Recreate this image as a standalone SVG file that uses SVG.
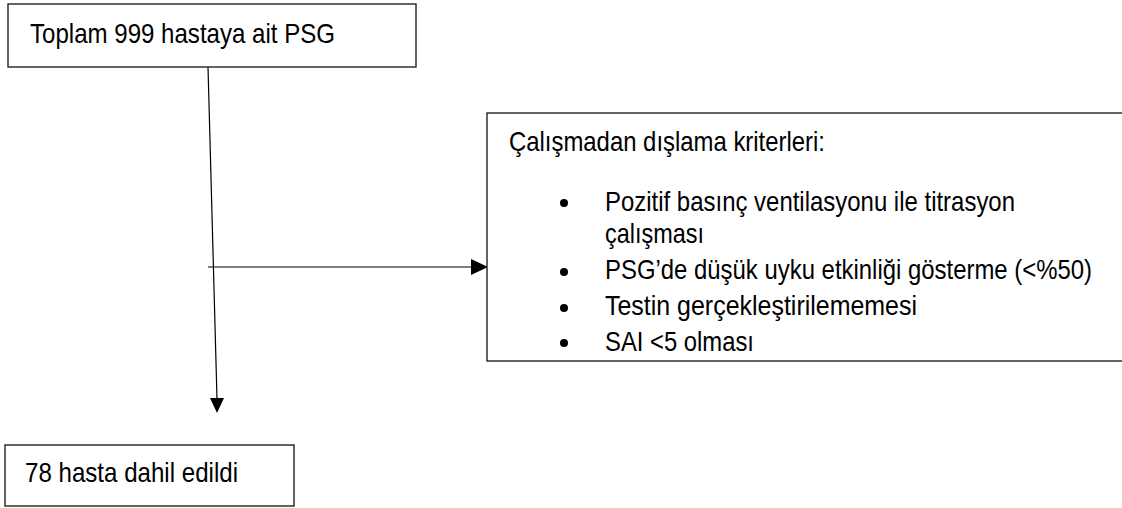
<svg xmlns="http://www.w3.org/2000/svg" width="1122" height="508" viewBox="0 0 1122 508">
<style>
.box{fill:#fff;stroke:#222;stroke-width:1.4}
.t{font-family:"Liberation Sans",Arial,sans-serif;font-size:28px;fill:#000}
.ln{stroke:#000;stroke-width:1.2;fill:none}
.ah{fill:#000}
</style>
<rect x="0" y="0" width="1122" height="508" fill="#fff"/>
<g id="connectors">
<line class="ln" x1="208" y1="67" x2="217" y2="399"/>
<polygon class="ah" points="210,398 224,398 217,413"/>
<line class="ln" x1="208" y1="267" x2="472" y2="267"/>
<polygon class="ah" points="471,259 471,275 488,267"/>
</g>
<g id="node-top">
<rect class="box" x="8" y="4" width="408" height="63"/>
<text class="t" x="30" y="43" textLength="305" lengthAdjust="spacingAndGlyphs">Toplam 999 hastaya ait PSG</text>
</g>
<g id="node-exclusion">
<rect class="box" x="487" y="113" width="640" height="248"/>
<text class="t" x="509" y="151" textLength="316" lengthAdjust="spacingAndGlyphs">Çalışmadan dışlama kriterleri:</text>
<circle cx="564" cy="203" r="4"/>
<text class="t" x="605" y="211" textLength="410" lengthAdjust="spacingAndGlyphs">Pozitif basınç ventilasyonu ile titrasyon</text>
<text class="t" x="605" y="243" textLength="99" lengthAdjust="spacingAndGlyphs">çalışması</text>
<circle cx="564" cy="272" r="4"/>
<text class="t" x="605" y="279" textLength="487" lengthAdjust="spacingAndGlyphs">PSG’de düşük uyku etkinliği gösterme (&lt;%50)</text>
<circle cx="564" cy="308" r="4"/>
<text class="t" x="605" y="315" textLength="312" lengthAdjust="spacingAndGlyphs">Testin gerçekleştirilememesi</text>
<circle cx="564" cy="343" r="4"/>
<text class="t" x="605" y="351" textLength="149" lengthAdjust="spacingAndGlyphs">SAI &lt;5 olması</text>
</g>
<g id="node-bottom">
<rect class="box" x="5" y="445" width="289" height="61"/>
<text class="t" x="25" y="482" textLength="213" lengthAdjust="spacingAndGlyphs">78 hasta dahil edildi</text>
</g>
</svg>
